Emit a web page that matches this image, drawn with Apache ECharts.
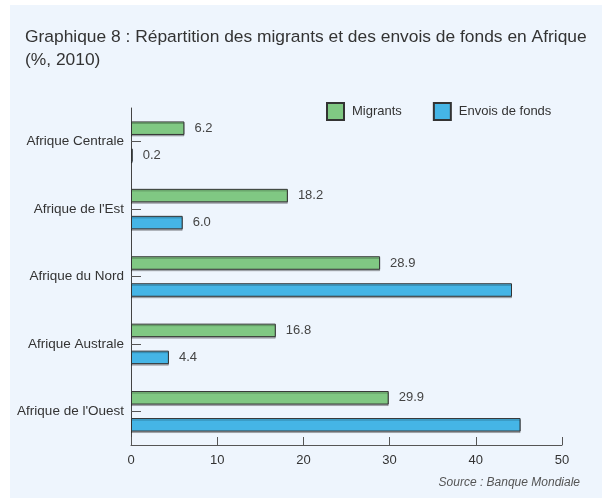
<!DOCTYPE html>
<html>
<head>
<meta charset="utf-8">
<script src="https://cdn.jsdelivr.net/npm/echarts@6/dist/echarts.min.js"></script>
<style>html,body{margin:0;padding:0;background:#fff}#c{width:602px;height:498px}</style>
</head>
<body>
<div id="c"></div>
<script>
var categories = ["Afrique Centrale", "Afrique de l'Est", "Afrique du Nord", "Afrique Australe", "Afrique de l'Ouest"];
var migrants = [6.2, 18.2, 28.9, 16.8, 29.9];
var envois = [0.2, 6.0, 44.2, 4.4, 45.2];
var envoisLabelShown = [true, true, false, true, false];
var xTicks = [0, 10, 20, 30, 40, 50];

var font = "'Liberation Sans', Arial, Helvetica, sans-serif";
var chart = echarts.init(document.getElementById('c'), null, {renderer: 'canvas'});
var labelStyle = {show: true, position: 'right', distance: 10, color: '#444', fontSize: 13, fontFamily: font,
  formatter: function (p) { return Number(p.value).toFixed(1); }};
chart.setOption({
  backgroundColor: '#ffffff',
  animation: false,
  textStyle: {fontFamily: font},
  graphic: [
    {type: 'rect', z: -10, shape: {x: 10, y: 5, width: 592, height: 493}, style: {fill: '#eef5fd'}, silent: true},
    {type: 'text', left: 25, top: 26, style: {text: 'Graphique 8 : Répartition des migrants et des envois de fonds en Afrique\n(%, 2010)', fill: '#333', font: '17.4px ' + font, lineHeight: 23}},
    {type: 'text', right: 22, top: 477, style: {text: 'Source : Banque Mondiale', fill: '#555', font: 'italic 12px ' + font}}
  ],
  legend: {
    left: 326, top: 102, padding: 0, itemWidth: 17, itemHeight: 17, itemGap: 31,
    textStyle: {color: '#333', fontSize: 13, fontFamily: font, padding: [0, 0, 0, 3]},
    data: [{name: 'Migrants', icon: 'rect'}, {name: 'Envois de fonds', icon: 'rect'}]
  },
  grid: {left: 131, right: 40, top: 108, bottom: 53},
  xAxis: {
    type: 'value', min: xTicks[0], max: xTicks[xTicks.length - 1], interval: 10,
    splitLine: {show: false},
    axisLine: {show: true, lineStyle: {color: '#555', width: 1}},
    axisTick: {show: true, inside: true, length: 8, lineStyle: {color: '#555'}},
    axisLabel: {color: '#333', fontSize: 13, margin: 9, fontFamily: font}
  },
  yAxis: {
    type: 'category', data: categories, inverse: true,
    axisLine: {show: true, lineStyle: {color: '#444', width: 1}},
    axisTick: {show: true, inside: true, length: 10, alignWithLabel: true, lineStyle: {color: '#555'}},
    axisLabel: {color: '#333', fontSize: 13.5, margin: 7, fontFamily: font}
  },
  series: [
    {name: 'Migrants', type: 'bar', data: migrants, barWidth: 13.5, barGap: '100%',
     itemStyle: {color: '#80c883', borderColor: '#333', borderWidth: 1, shadowColor: 'rgba(0,0,0,0.25)', shadowOffsetY: 1.5, shadowBlur: 0},
     label: labelStyle},
    {name: 'Envois de fonds', type: 'bar', barWidth: 13.5,
     data: envois.map(function (v, i) { return {value: v, label: {show: envoisLabelShown[i]}}; }),
     itemStyle: {color: '#45b5e6', borderColor: '#333', borderWidth: 1, shadowColor: 'rgba(0,0,0,0.25)', shadowOffsetY: 1.5, shadowBlur: 0},
     label: labelStyle}
  ]
});
</script>
</body>
</html>
